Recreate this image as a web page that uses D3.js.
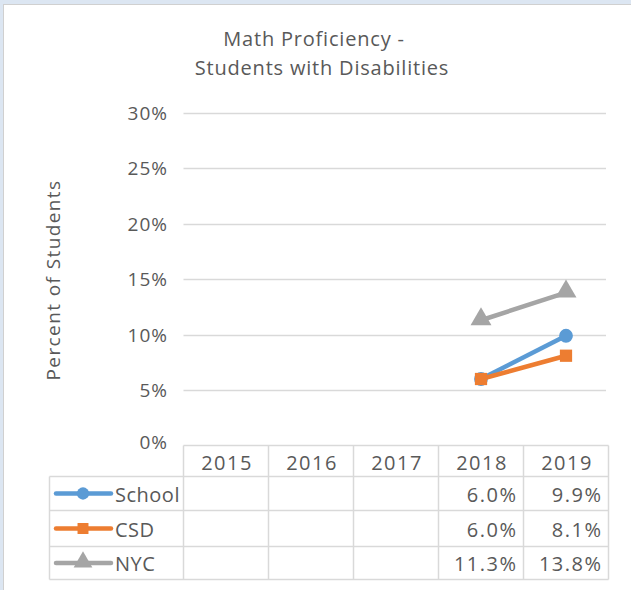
<!DOCTYPE html>
<html>
<head>
<meta charset="utf-8">
<script src="https://cdn.jsdelivr.net/npm/d3@7"></script>
<style>
  body { margin: 0; background: #dce6f2; }
  svg { display: block; }
</style>
</head>
<body>
<script>
"use strict";

// data
const years = ["2015", "2016", "2017", "2018", "2019"];
const seriesNames = ["School", "CSD", "NYC"];
const schoolValues = [null, null, null, 6.0, 9.9];
const csdValues = [null, null, null, 6.0, 8.1];
const nycValues = [null, null, null, 11.3, 13.8];
const yTicks = [0, 5, 10, 15, 20, 25, 30];
const seriesColors = ["#5b9bd5", "#ed7d31", "#a5a5a5"];
const seriesShapes = [d3.symbolCircle, d3.symbolSquare, d3.symbolTriangle];

(function()
{
	const W = 631, H = 590;
	const fontFam = "'Open Sans', 'DejaVu Sans', sans-serif";
	const textCol = "#595959";
	const gridCol = "#d9d9d9";

	let svg = d3.select("body").append("svg")
		.attr("width", W)
		.attr("height", H);

	//background + panel
	svg.append("rect").attr("width", W).attr("height", H).attr("fill", "#dce6f2");
	svg.append("rect")
		.attr("x", 3.5).attr("y", 4.5)
		.attr("width", W + 10).attr("height", H + 10)
		.attr("fill", "white")
		.attr("stroke", "#d0d0d0");

	//title
	let title = svg.append("text")
		.attr("text-anchor", "middle")
		.attr("fill", textCol)
		.style("font-family", fontFam)
		.style("font-size", "20px")
		.style("letter-spacing", "0.8px");
	title.append("tspan").attr("x", 314).attr("y", 46).text("Math Proficiency -");
	title.append("tspan").attr("x", 322).attr("y", 75).text("Students with Disabilities");

	//scales
	const plotLeft = 183.5, plotRight = 608.5;
	const x = d3.scaleBand().domain(years).range([plotLeft, plotRight]);
	const y = d3.scaleLinear().domain([0, 30]).range([445.5, 113]);

	//gridlines
	svg.append("g")
		.selectAll("line")
		.data(yTicks.filter(d => d > 0))
		.join("line")
		.attr("x1", plotLeft).attr("x2", 606)
		.attr("y1", d => Math.round(y(d)) + 0.5)
		.attr("y2", d => Math.round(y(d)) + 0.5)
		.attr("stroke", gridCol)
		.attr("stroke-width", 1.5);

	//y axis labels
	svg.append("g")
		.selectAll("text")
		.data(yTicks)
		.join("text")
		.attr("x", 168)
		.attr("y", d => d === 0 ? y(d) + 3 : y(d) + 7)
		.attr("text-anchor", "end")
		.attr("fill", textCol)
		.style("font-family", fontFam)
		.style("font-size", "19px")
		.style("letter-spacing", "1px")
		.text(d => d + "%");

	//y axis title
	svg.append("text")
		.attr("transform", "translate(60,280) rotate(-90)")
		.attr("text-anchor", "middle")
		.attr("fill", textCol)
		.style("font-family", fontFam)
		.style("font-size", "19px")
		.style("letter-spacing", "1.4px")
		.text("Percent of Students");

	//lines and markers
	const allValues = [schoolValues, csdValues, nycValues];
	const line = d3.line()
		.defined(d => d.v !== null)
		.x(d => x(d.year) + x.bandwidth() / 2)
		.y(d => y(d.v));
	const sizes = [150, 150, 190];

	allValues.forEach(function(vals, i)
	{
		let pts = years.map((yr, j) => ({ year: yr, v: vals[j] }));
		svg.append("path")
			.datum(pts)
			.attr("d", line)
			.attr("fill", "none")
			.attr("stroke", seriesColors[i])
			.attr("stroke-width", 4.5)
			.attr("stroke-linejoin", "round");
		svg.append("g")
			.selectAll("path")
			.data(pts.filter(d => d.v !== null))
			.join("path")
			.attr("transform", d => "translate(" + (x(d.year) + x.bandwidth() / 2) + "," + (y(d.v) + (i === 2 ? -1 : 0)) + ")")
			.attr("d", d3.symbol().type(seriesShapes[i]).size(sizes[i]))
			.attr("fill", seriesColors[i]);
	});

	//data table
	const tableLeft = 49.5;
	const rowTops = [445.5, 476.5, 510.5, 546.5, 579.5];
	let tbl = svg.append("g")
		.attr("stroke", gridCol)
		.attr("stroke-width", 1.5)
		.attr("fill", "none");
	//horizontal lines
	rowTops.forEach(function(ry, k)
	{
		tbl.append("line")
			.attr("x1", k === 0 ? plotLeft : tableLeft).attr("x2", plotRight)
			.attr("y1", ry).attr("y2", ry);
	});
	//vertical lines
	let colEdges = years.map(yr => x(yr)).concat([plotRight]);
	colEdges.forEach(function(cx)
	{
		tbl.append("line")
			.attr("x1", cx).attr("x2", cx)
			.attr("y1", rowTops[0]).attr("y2", rowTops[4]);
	});
	tbl.append("line")
		.attr("x1", tableLeft).attr("x2", tableLeft)
		.attr("y1", rowTops[1]).attr("y2", rowTops[4]);

	//header text
	svg.append("g")
		.selectAll("text")
		.data(years)
		.join("text")
		.attr("x", d => x(d) + x.bandwidth() / 2 + 1)
		.attr("y", 470)
		.attr("text-anchor", "middle")
		.attr("fill", textCol)
		.style("font-family", fontFam)
		.style("font-size", "20px")
		.style("letter-spacing", "1.5px")
		.text(d => d);

	//rows
	seriesNames.forEach(function(name, i)
	{
		let cy = (rowTops[i + 1] + rowTops[i + 2]) / 2;
		let g = svg.append("g");
		g.append("line")
			.attr("x1", 56).attr("x2", 111)
			.attr("y1", cy).attr("y2", cy)
			.attr("stroke", seriesColors[i])
			.attr("stroke-width", 4.5)
			.attr("stroke-linecap", "round");
		g.append("path")
			.attr("transform", "translate(83," + (cy + (i === 2 ? -1 : 0)) + ")")
			.attr("d", d3.symbol().type(seriesShapes[i]).size(sizes[i] * 0.8))
			.attr("fill", seriesColors[i]);
		g.append("text")
			.attr("x", 115)
			.attr("y", cy + 8)
			.attr("fill", textCol)
			.style("font-family", fontFam)
			.style("font-size", "20px")
			.style("letter-spacing", "0.5px")
			.text(name);
		allValues[i].forEach(function(v, j)
		{
			if (v === null) return;
			g.append("text")
				.attr("x", x(years[j]) + x.bandwidth() - 6)
				.attr("y", cy + 8)
				.attr("text-anchor", "end")
				.attr("fill", textCol)
				.style("font-family", fontFam)
				.style("font-size", "20px")
				.style("letter-spacing", "1.5px")
				.text(v.toFixed(1) + "%");
		});
	});
})();
</script>
</body>
</html>
